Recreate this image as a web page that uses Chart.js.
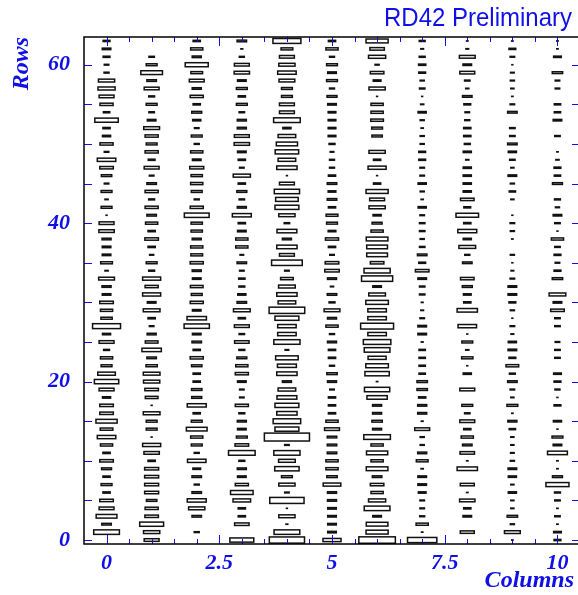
<!DOCTYPE html>
<html>
<head>
<meta charset="utf-8">
<script src="https://cdn.jsdelivr.net/npm/chart.js@4.4.0/dist/chart.umd.min.js"></script>
<style>
  html, body { margin: 0; padding: 0; overflow: hidden; background: #fff; }
  canvas { display: block; }
</style>
</head>
<body>
<canvas id="canvas" width="582" height="595"></canvas>
<script>
// cell contents, one array per column, rows 0..63 (fraction of the largest cell)
var col0 = [0, 0.57, 0.21, 0.46, 0.33, 0.3, 0.16, 0.24, 0.16, 0.22, 0.3, 0.16, 0.27, 0.41, 0.28, 0.47,
  0.3, 0.3, 0.18, 0.33, 0.54, 0.39, 0.24, 0.27, 0.13, 0.33, 0.18, 0.62, 0.25, 0.27, 0.3, 0.19,
  0.2, 0.35, 0.07, 0.26, 0.19, 0.19, 0.2, 0.34, 0.33, 0.02, 0.24, 0.07, 0.24, 0.1, 0.23, 0.3,
  0.41, 0.1, 0.29, 0.18, 0.16, 0.52, 0.14, 0.29, 0.33, 0.38, 0.36, 0.11, 0.1, 0.15, 0.19, 0.15];
var col1 = [0.33, 0.36, 0.53, 0.3, 0.29, 0.23, 0.31, 0.31, 0.31, 0.31, 0.16, 0.34, 0.4, 0.02, 0.24, 0.24,
  0.37, 0.02, 0.28, 0.3, 0.36, 0.37, 0.25, 0.21, 0.43, 0.28, 0.2, 0.1, 0.16, 0.37, 0.19, 0.4,
  0.29, 0.4, 0.13, 0.24, 0.09, 0.16, 0.3, 0.16, 0.27, 0.21, 0.29, 0.13, 0.29, 0.21, 0.1, 0.33,
  0.15, 0.29, 0.24, 0.29, 0.35, 0.19, 0.12, 0.24, 0.13, 0.33, 0.21, 0.48, 0.24, 0.12, 0, 0];
var col2 = [0, 0.11, 0, 0.21, 0.36, 0.42, 0.21, 0.11, 0.21, 0.17, 0.41, 0.11, 0.24, 0.27, 0.46, 0.24,
  0.16, 0.42, 0.22, 0.23, 0.16, 0.16, 0.23, 0.29, 0.16, 0.21, 0.19, 0.56, 0.43, 0.19, 0.29, 0.24,
  0.28, 0.19, 0.2, 0.29, 0.26, 0.27, 0.2, 0.25, 0.25, 0.55, 0.29, 0.11, 0.24, 0.27, 0.25, 0.31,
  0.19, 0.27, 0.11, 0.24, 0.1, 0.18, 0.22, 0.16, 0.29, 0.2, 0.33, 0.26, 0.51, 0.2, 0.27, 0.16];
var col3 = [0.53, 0, 0.32, 0.16, 0.16, 0.39, 0.5, 0.29, 0.19, 0.2, 0.13, 0.59, 0.3, 0.24, 0.19, 0.2,
  0.13, 0.29, 0.1, 0.1, 0.19, 0.29, 0.27, 0.22, 0.13, 0.32, 0.12, 0.33, 0.16, 0.37, 0.21, 0.18,
  0.13, 0.14, 0.1, 0.21, 0.08, 0.27, 0.27, 0.19, 0.16, 0.42, 0.2, 0.12, 0.22, 0.16, 0.38, 0.1,
  0.16, 0.19, 0.34, 0.33, 0.2, 0.2, 0.12, 0.24, 0.16, 0.24, 0.19, 0.34, 0.33, 0.11, 0.04, 0.21];
var col4 = [0.78, 0.57, 0.04, 0.36, 0.02, 0.76, 0.1, 0.36, 0.24, 0.54, 0.37, 0.58, 0.1, 1.0, 0.53, 0.61,
  0.45, 0.53, 0.44, 0.39, 0.2, 0.45, 0.42, 0.5, 0.08, 0.58, 0.41, 0.41, 0.53, 0.79, 0.39, 0.45,
  0.37, 0.28, 0.1, 0.68, 0.33, 0.45, 0.2, 0.44, 0.12, 0.36, 0.53, 0.5, 0.56, 0.33, 0.02, 0.45,
  0.39, 0.52, 0.47, 0.39, 0.18, 0.59, 0.33, 0.33, 0.24, 0.24, 0.35, 0.41, 0.36, 0.33, 0.26, 0.62];
var col5 = [0.4, 0.19, 0.19, 0.19, 0.19, 0.2, 0.2, 0.39, 0.23, 0.27, 0.27, 0.21, 0.21, 0.21, 0.33, 0.27,
  0.16, 0.16, 0.16, 0.1, 0.2, 0.23, 0.11, 0.16, 0.16, 0.2, 0.11, 0.27, 0.2, 0.35, 0.13, 0.21,
  0.07, 0.2, 0.32, 0.3, 0.1, 0.16, 0.29, 0.17, 0.24, 0.26, 0.16, 0.21, 0.17, 0.21, 0.16, 0.11,
  0.11, 0.08, 0.13, 0.17, 0.17, 0.17, 0.17, 0.19, 0.22, 0.11, 0.24, 0.19, 0.24, 0.11, 0.27, 0.16];
var col6 = [0.81, 0.49, 0.48, 0.19, 0.57, 0.38, 0.27, 0.3, 0.21, 0.48, 0.27, 0.47, 0.27, 0.59, 0.2, 0.23,
  0.2, 0.2, 0.45, 0.56, 0.03, 0.54, 0.5, 0.4, 0.57, 0.61, 0.41, 0.73, 0.41, 0.41, 0.5, 0.37,
  0.19, 0.69, 0.58, 0.3, 0.46, 0.46, 0.48, 0.27, 0.22, 0.18, 0.36, 0.33, 0.49, 0.16, 0.02, 0.4,
  0.16, 0.36, 0, 0.23, 0.24, 0.28, 0.27, 0.27, 0.02, 0.36, 0.17, 0.3, 0.09, 0.38, 0.32, 0.49];
var col7 = [0.65, 0.03, 0.27, 0.11, 0.1, 0.1, 0.17, 0.19, 0.19, 0.05, 0.26, 0.2, 0.09, 0.09, 0.33, 0.04,
  0.2, 0.2, 0.16, 0.23, 0.23, 0.14, 0.14, 0.14, 0.14, 0.04, 0.19, 0.19, 0.1, 0.06, 0.04, 0.12,
  0.12, 0.19, 0.3, 0.15, 0.21, 0.12, 0.09, 0.12, 0.12, 0.1, 0.18, 0.05, 0.09, 0.18, 0.1, 0.1,
  0.15, 0.15, 0.09, 0.09, 0.05, 0.09, 0.18, 0.07, 0.02, 0.12, 0.09, 0.15, 0.16, 0.13, 0.06, 0.13];
var col8 = [0, 0.31, 0, 0.19, 0.16, 0.34, 0.03, 0.31, 0, 0.45, 0.03, 0.32, 0.21, 0.27, 0.16, 0.33,
  0.12, 0.24, 0, 0.33, 0, 0.18, 0.02, 0.25, 0.07, 0.24, 0.02, 0.41, 0, 0.45, 0.16, 0.17,
  0.22, 0.3, 0, 0.21, 0.11, 0.37, 0.18, 0.42, 0.16, 0.5, 0.15, 0.3, 0.18, 0.18, 0.18, 0.18,
  0.07, 0.18, 0.13, 0.16, 0.16, 0.11, 0.1, 0.15, 0.21, 0.07, 0.12, 0.33, 0.19, 0.35, 0.06, 0.03];
var col9 = [0.03, 0.35, 0.09, 0.23, 0.07, 0.07, 0.18, 0.07, 0.18, 0.19, 0.09, 0.08, 0.07, 0.07, 0.14, 0.2,
  0.03, 0.24, 0.07, 0.1, 0.21, 0.13, 0.28, 0.15, 0.19, 0.18, 0.06, 0.1, 0.02, 0.09, 0.15, 0.19,
  0.19, 0.1, 0.06, 0.02, 0.09, 0, 0.03, 0.09, 0.1, 0.02, 0, 0.07, 0.14, 0.09, 0.19, 0.07,
  0.12, 0.18, 0.21, 0.12, 0.12, 0, 0.21, 0.1, 0.03, 0.07, 0.09, 0.08, 0.02, 0.1, 0.15, 0.03];
var col10 = [0.15, 0.17, 0.03, 0.12, 0.03, 0.12, 0.13, 0.51, 0.22, 0.03, 0.03, 0.44, 0.19, 0.24, 0.02, 0.18,
  0, 0.15, 0.02, 0.11, 0.15, 0.17, 0, 0.12, 0.12, 0.1, 0, 0.12, 0.12, 0.3, 0.19, 0.37,
  0, 0.23, 0.15, 0.1, 0.15, 0.12, 0.27, 0.02, 0.12, 0.19, 0.09, 0.13, 0, 0.22, 0.14, 0.15,
  0.07, 0.03, 0, 0.12, 0, 0.19, 0.14, 0.14, 0, 0.1, 0.1, 0.23, 0, 0.17, 0.03, 0.03];

var columns = [col0, col1, col2, col3, col4, col5, col6, col7, col8, col9, col10];
var xTickLabels = [0, 2.5, 5, 7.5, 10];
var yTickLabels = [0, 20, 40, 60];

var blue = 'rgb(16,16,230)';
var labelFont = { family: '"Liberation Serif", serif', size: 22, style: 'italic', weight: 'bold' };
var titleFont = { family: '"Liberation Serif", serif', size: 24, style: 'italic', weight: 'bold' };

// one point per non-empty cell
var points = [];
for (var c = 0; c < columns.length; c++) {
  for (var r = 0; r < columns[c].length; r++) {
    if (columns[c][r] > 0) points.push({ x: c, y: r, v: columns[c][r] });
  }
}

// draw every cell as an open box whose size follows its content
var boxPlugin = {
  id: 'boxes',
  afterDatasetsDraw: function(chart) {
    var ctx = chart.ctx;
    var xs = chart.scales.x, ys = chart.scales.y;
    var cw = xs.getPixelForValue(1) - xs.getPixelForValue(0);
    var ch = ys.getPixelForValue(0) - ys.getPixelForValue(1);
    ctx.save();
    ctx.strokeStyle = '#111';
    ctx.lineWidth = 1.5;
    chart.data.datasets[0].data.forEach(function(p) {
      var w = p.v * cw, h = p.v * ch;
      ctx.strokeRect(xs.getPixelForValue(p.x) - w / 2, ys.getPixelForValue(p.y) - h / 2, w, h);
    });
    ctx.restore();
  }
};

// frame, inside ticks on the four sides and the label at the top
var framePlugin = {
  id: 'frame',
  afterDraw: function(chart) {
    var ctx = chart.ctx, a = chart.chartArea;
    var xs = chart.scales.x, ys = chart.scales.y;
    ctx.save();
    ctx.strokeStyle = blue;
    ctx.lineWidth = 1;
    ctx.beginPath();
    for (var v = 0; v <= 10.001; v += 0.5) {
      var px = Math.round(xs.getPixelForValue(v)) + 0.5;
      var len = (v % 2.5 === 0) ? 9 : 5;
      ctx.moveTo(px, a.bottom); ctx.lineTo(px, a.bottom - len);
      ctx.moveTo(px, a.top); ctx.lineTo(px, a.top + len);
    }
    for (var k = 0; k <= 60; k += 5) {
      var py = Math.round(ys.getPixelForValue(k)) + 0.5;
      ctx.moveTo(a.left, py); ctx.lineTo(a.left + 8, py);
      ctx.moveTo(a.right, py); ctx.lineTo(a.right - 8, py);
    }
    ctx.stroke();
    ctx.strokeStyle = '#000';
    ctx.lineWidth = 1.5;
    ctx.strokeRect(a.left, a.top, a.right - a.left, a.bottom - a.top);

    ctx.fillStyle = blue;
    ctx.font = '26px "Liberation Sans", sans-serif';
    ctx.textAlign = 'right';
    ctx.textBaseline = 'alphabetic';
    ctx.fillText('RD42 Preliminary', 572, 26, 188);
    ctx.restore();
  }
};

var canvas = document.getElementById('canvas');
var ctx = canvas.getContext('2d');

var chart = new Chart(ctx, {
  type: 'scatter',
  data: {
    datasets: [{
      data: points,
      pointRadius: 0,
      pointHoverRadius: 0
    }]
  },
  options: {
    responsive: false,
    animation: false,
    events: [],
    layout: { padding: { top: 37, right: 2, left: 0, bottom: 0 } },
    plugins: {
      legend: { display: false },
      tooltip: { enabled: false }
    },
    scales: {
      x: {
        type: 'linear',
        min: -0.5,
        max: 10.5,
        grid: { display: false, drawTicks: false, tickLength: 0 },
        border: { display: false },
        afterBuildTicks: function(s) { s.ticks = xTickLabels.map(function(v) { return { value: v }; }); },
        afterFit: function(s) { s.height = 51; },
        ticks: { color: blue, font: labelFont, padding: 6, maxRotation: 0, autoSkip: false },
        title: { display: true, text: 'Columns ', align: 'end', color: blue, font: titleFont, padding: 0 }
      },
      y: {
        type: 'linear',
        min: -0.5,
        max: 63.5,
        grid: { display: false, drawTicks: false, tickLength: 0 },
        border: { display: false },
        afterBuildTicks: function(s) { s.ticks = yTickLabels.map(function(v) { return { value: v }; }); },
        afterFit: function(s) { s.width = 84; },
        ticks: { color: blue, font: labelFont, padding: 14, autoSkip: false },
        title: { display: true, text: 'Rows', align: 'end', color: blue, font: titleFont, padding: { top: 7, bottom: 0 } }
      }
    }
  },
  plugins: [boxPlugin, framePlugin]
});
</script>
</body>
</html>
